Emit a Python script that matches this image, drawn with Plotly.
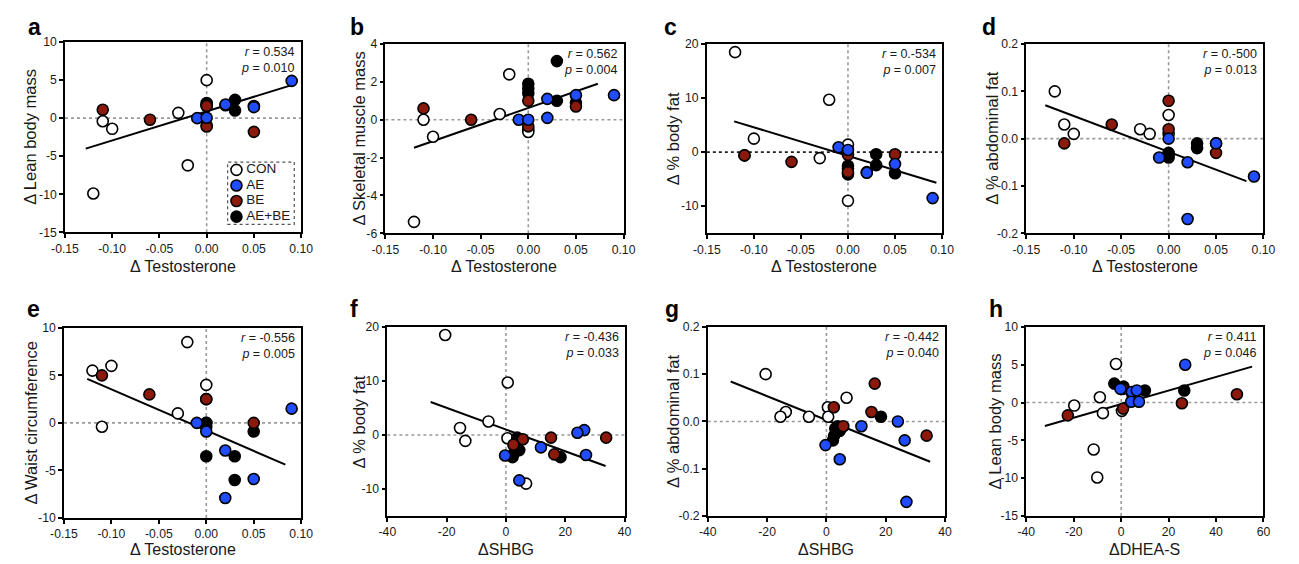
import plotly.graph_objects as go

# ---------------- data ----------------
GROUPS = ["CON", "AE", "BE", "AE+BE"]

# Δ Testosterone (x for panels a–e)
T_CON = [-0.12, -0.11, -0.10, -0.03, -0.02, 0.00, 0.00]
T_AE = [-0.01, 0.00, 0.02, 0.02, 0.05, 0.09]
T_BE = [-0.11, -0.06, 0.00, 0.00, 0.05]
T_AEBE = [0.00, 0.00, 0.00, 0.03, 0.03, 0.05]

# a: Δ Lean body mass
A_CON = [-9.9, -0.4, -1.4, 0.7, -6.2, 5.0, -0.95]
A_AE = [0.0, 0.05, 1.7, 1.8, 1.45, 4.9]
A_BE = [1.1, -0.2, 1.6, -1.1, -1.8]
A_AEBE = [2.0, 1.8, 1.6, 2.4, 1.0, 1.6]

# b: Δ Skeletal muscle mass
B_CON = [-5.4, 0.0, -0.9, 0.3, 2.4, -0.5, -0.65]
B_AE = [0.0, 0.0, 1.1, 0.1, 1.3, 1.3]
B_BE = [0.6, 0.0, 1.0, -0.35, 0.7]
B_AEBE = [1.9, 1.65, 1.4, 3.1, 1.0, 0.9]

# c: Δ % body fat
C_CON = [18.5, -0.6, 2.5, -1.1, 9.7, 1.4, -9.0]
C_AE = [0.9, 0.4, -3.7, -3.8, -2.2, -8.5]
C_BE = [-0.6, -1.8, -0.5, -3.7, -0.4]
C_AEBE = [-2.5, -3.0, -4.1, -0.4, -2.4, -3.9]

# d: Δ % abdominal fat
D_CON = [0.10, 0.03, 0.01, 0.02, 0.01, 0.01, 0.05]
D_AE = [-0.04, 0.00, -0.05, -0.17, -0.01, -0.08]
D_BE = [-0.01, 0.03, 0.02, 0.08, -0.03]
D_AEBE = [-0.03, -0.035, -0.04, -0.01, -0.02, -0.01]

# e: Δ Waist circumference
E_CON = [5.5, -0.4, 6.0, 1.0, 8.5, 4.0, -0.4]
E_AE = [0.0, -0.9, -2.9, -7.9, -5.9, 1.5]
E_BE = [5.0, 3.0, 2.5, 2.5, 0.0]
E_AEBE = [0.0, -3.5, 0.0, -3.5, -6.0, -0.9]

# ΔSHBG (x for panels f, g)
SHBG_CON = [-20.5, 0.5, -5.9, -13.7, 0.6, -15.5, 6.8]
SHBG_AE = [26.4, 24.1, -0.3, 27.0, 11.8, 4.5]
SHBG_BE = [5.7, 2.5, 15.2, 16.3, 33.8]
SHBG_AEBE = [3.8, 3.0, 4.5, 2.6, 2.2, 18.4]

# f: Δ % body fat
F_CON = [18.5, -0.6, 2.5, -1.1, 9.7, 1.3, -9.0]
F_AE = [0.9, 0.4, -3.8, -3.7, -2.3, -8.4]
F_BE = [-0.8, -1.8, -0.5, -3.6, -0.5]
F_AEBE = [-0.5, -2.3, -2.8, -3.5, -4.1, -4.1]

# g: Δ % abdominal fat
G_CON = [0.10, 0.03, 0.01, 0.02, 0.01, 0.01, 0.05]
G_AE = [-0.04, 0.00, -0.05, -0.17, -0.01, -0.08]
G_BE = [-0.01, 0.03, 0.02, 0.08, -0.03]
G_AEBE = [-0.01, -0.015, -0.02, -0.03, -0.04, 0.01]

# ΔDHEA-S (x for panel h)
DHEA_CON = [-10.1, -19.8, -7.7, -9.0, -11.6, -2.2, 0.3]
DHEA_AE = [-0.3, 4.5, 6.6, 4.2, 7.5, 27.0]
DHEA_BE = [-22.5, 0.8, 0.8, 25.6, 48.8]
DHEA_AEBE = [-2.9, 1.0, 5.0, 10.0, 26.6, 4.6]

# h: Δ Lean body mass
H_CON = [-9.9, -0.4, -1.4, 0.7, -6.2, 5.1, -1.1]
H_AE = [1.8, 1.4, 1.6, 0.1, 0.1, 5.0]
H_BE = [-1.7, 1.8, -0.8, -0.1, 1.1]
H_AEBE = [2.5, 2.1, 0.7, 1.6, 1.6, 1.2]

# regression lines (end points)
FIT_A_X, FIT_A_Y = [-0.128, 0.090], [-4.0, 4.35]
FIT_B_X, FIT_B_Y = [-0.120, 0.073], [-1.48, 1.90]
FIT_C_X, FIT_C_Y = [-0.121, 0.094], [5.7, -5.65]
FIT_D_X, FIT_D_Y = [-0.130, 0.082], [0.0705, -0.0897]
FIT_E_X, FIT_E_Y = [-0.1255, 0.0834], [4.63, -4.39]
FIT_F_X, FIT_F_Y = [-25.4, 33.6], [6.1, -5.75]
FIT_G_X, FIT_G_Y = [-32.3, 35.0], [0.0845, -0.0852]
FIT_H_X, FIT_H_Y = [-32.2, 55.2], [-3.1, 4.74]

STATS = [("0.534", "0.010"), ("0.562", "0.004"), ("0.-534", "0.007"), ("0.-500", "0.013"),
         ("-0.556", "0.005"), ("-0.436", "0.033"), ("-0.442", "0.040"), ("0.411", "0.046")]

TICKS_T = [-0.15, -0.10, -0.05, 0.00, 0.05, 0.10]
TICKS_SHBG = [-40, -20, 0, 20, 40]
TICKS_DHEA = [-40, -20, 0, 20, 40, 60]
TICKS_LBM = [-15, -10, -5, 0, 5, 10]
TICKS_SMM = [-6, -4, -2, 0, 2, 4]
TICKS_PBF = [-10, 0, 10, 20]
TICKS_PAF = [-0.2, -0.1, 0.0, 0.1, 0.2]
TICKS_WC = [-10, -5, 0, 5, 10]

# ---------------- styling / layout ----------------
W, H = 1299, 564
FONT = "Liberation Sans, Arial, Helvetica, sans-serif"
FILL = {"CON": "#ffffff", "AE": "#1f4dff", "BE": "#8b1a0c", "AE+BE": "#000000"}
DRAW_ORDER = ["CON", "AE+BE", "BE", "AE"]


def px(xp):
    return xp / W


def py(yp):
    return 1 - yp / H


def grp(c, ae, be, aebe):
    return {"CON": c, "AE": ae, "BE": be, "AE+BE": aebe}


Tx = grp(T_CON, T_AE, T_BE, T_AEBE)
Sx = grp(SHBG_CON, SHBG_AE, SHBG_BE, SHBG_AEBE)
Dx = grp(DHEA_CON, DHEA_AE, DHEA_BE, DHEA_AEBE)

panels = [
    dict(letter="a", x=Tx, y=grp(A_CON, A_AE, A_BE, A_AEBE), fx=FIT_A_X, fy=FIT_A_Y,
         xr=[-0.15, 0.10], yr=[-15, 10], xt=TICKS_T, yt=TICKS_LBM, xf="{:.2f}", yf="{:d}",
         xtitle="Δ Testosterone", ytitle="Δ Lean body mass", box=(52, 293, 36, 231)),
    dict(letter="b", x=Tx, y=grp(B_CON, B_AE, B_BE, B_AEBE), fx=FIT_B_X, fy=FIT_B_Y,
         xr=[-0.15, 0.10], yr=[-6, 4], xt=TICKS_T, yt=TICKS_SMM, xf="{:.2f}", yf="{:d}",
         xtitle="Δ Testosterone", ytitle="Δ Skeletal muscle mass", box=(379, 622, 38, 232)),
    dict(letter="c", x=Tx, y=grp(C_CON, C_AE, C_BE, C_AEBE), fx=FIT_C_X, fy=FIT_C_Y,
         xr=[-0.15, 0.10], yr=[-15, 20], xt=TICKS_T, yt=TICKS_PBF, xf="{:.2f}", yf="{:d}",
         xtitle="Δ Testosterone", ytitle="Δ % body fat", box=(707, 947, 38, 232)),
    dict(letter="d", x=Tx, y=grp(D_CON, D_AE, D_BE, D_AEBE), fx=FIT_D_X, fy=FIT_D_Y,
         xr=[-0.15, 0.10], yr=[-0.2, 0.2], xt=TICKS_T, yt=TICKS_PAF, xf="{:.2f}", yf="{:.1f}",
         xtitle="Δ Testosterone", ytitle="Δ % abdominal fat", box=(1033, 1275, 38, 232)),
    dict(letter="e", x=Tx, y=grp(E_CON, E_AE, E_BE, E_AEBE), fx=FIT_E_X, fy=FIT_E_Y,
         xr=[-0.15, 0.10], yr=[-10, 10], xt=TICKS_T, yt=TICKS_WC, xf="{:.2f}", yf="{:d}",
         xtitle="Δ Testosterone", ytitle="Δ Waist circumference", box=(51, 293, 329, 524)),
    dict(letter="f", x=Sx, y=grp(F_CON, F_AE, F_BE, F_AEBE), fx=FIT_F_X, fy=FIT_F_Y,
         xr=[-40, 40], yr=[-15, 20], xt=TICKS_SHBG, yt=TICKS_PBF, xf="{:d}", yf="{:d}",
         xtitle="ΔSHBG", ytitle="Δ % body fat", box=(381, 623, 328, 522)),
    dict(letter="g", x=Sx, y=grp(G_CON, G_AE, G_BE, G_AEBE), fx=FIT_G_X, fy=FIT_G_Y,
         xr=[-40, 40], yr=[-0.2, 0.2], xt=TICKS_SHBG, yt=TICKS_PAF, xf="{:d}", yf="{:.1f}",
         xtitle="ΔSHBG", ytitle="Δ % abdominal fat", box=(708, 950, 328, 522)),
    dict(letter="h", x=Dx, y=grp(H_CON, H_AE, H_BE, H_AEBE), fx=FIT_H_X, fy=FIT_H_Y,
         xr=[-40, 60], yr=[-15, 10], xt=TICKS_DHEA, yt=TICKS_LBM, xf="{:d}", yf="{:d}",
         xtitle="ΔDHEA-S", ytitle="Δ Lean body mass", box=(1033, 1275, 328, 522)),
]

YTITLE_X = [17, 352, 672, 998, 17, 353, 673, 1002]
LETTER_X = [12, 341, 661, 986, 11, 341, 662, 993]


def fmt(f, v):
    if f == "{:d}":
        return str(int(round(v)))
    s = f.format(v)
    return s.replace("-0.00", "0.00")


fig = go.Figure()
layout = dict(
    width=W, height=H, margin=dict(l=0, r=0, t=0, b=0),
    paper_bgcolor="white", plot_bgcolor="white",
    font=dict(family=FONT, size=12, color="#1a1a1a"),
    showlegend=False,
)
shapes, annotations = [], []

for i, p in enumerate(panels, start=1):
    sfx = "" if i == 1 else str(i)
    xa, ya = f"x{sfx}", f"y{sfx}"
    x0, x1, yt, yb = p["box"]
    common = dict(showline=True, mirror=True, linecolor="black", linewidth=1.6,
                  ticks="outside", ticklen=4, tickwidth=1.5, tickcolor="black",
                  showgrid=False, zeroline=False, tickfont=dict(size=12.2, color="#1a1a1a"))
    layout[f"xaxis{sfx}"] = dict(domain=[px(x0), px(x1)], anchor=ya, range=p["xr"],
                                 tickvals=p["xt"], ticktext=[fmt(p["xf"], v) for v in p["xt"]], **common)
    layout[f"yaxis{sfx}"] = dict(domain=[py(yb), py(yt)], anchor=xa, range=p["yr"],
                                 tickvals=p["yt"], ticktext=[fmt(p["yf"], v) for v in p["yt"]], **common)

    # dotted zero lines
    hcol = "#222222" if p["letter"] == "c" else "#9a9a9a"
    shapes.append(dict(type="line", xref=xa, yref=f"{ya} domain", x0=0, x1=0, y0=0, y1=1,
                       line=dict(color="#9a9a9a", width=1.6, dash="dot"), layer="below"))
    shapes.append(dict(type="line", xref=f"{xa} domain", yref=ya, x0=0, x1=1, y0=0, y1=0,
                       line=dict(color=hcol, width=1.6, dash="dot"), layer="below"))

    # regression line
    fig.add_trace(go.Scatter(x=p["fx"], y=p["fy"], mode="lines", xaxis=xa, yaxis=ya,
                             line=dict(color="black", width=2), hoverinfo="skip"))
    # points
    for g in DRAW_ORDER:
        fig.add_trace(go.Scatter(x=p["x"][g], y=p["y"][g], mode="markers", name=g,
                                 xaxis=xa, yaxis=ya,
                                 marker=dict(size=11, color=FILL[g],
                                             line=dict(color="black", width=1.6))))

    r, pv = STATS[i - 1]
    annotations.append(dict(xref=f"{xa} domain", yref=f"{ya} domain", x=1, y=1,
                            xanchor="right", yanchor="top", xshift=-4, yshift=-1,
                            align="right", showarrow=False,
                            text=f"<i>r</i> = {r}<br><i>p</i> = {pv}",
                            font=dict(size=12.5, color="#1a1a1a")))
    # panel letter
    ly = 21 if i <= 4 else 310
    annotations.append(dict(xref="paper", yref="paper", x=px(LETTER_X[i - 1]), y=py(ly),
                            xanchor="left", yanchor="middle", showarrow=False,
                            text=f"<b>{p['letter']}</b>", font=dict(size=23, color="black")))
    # axis titles
    ty = 266 if i <= 4 else 556.5
    annotations.append(dict(xref=f"{xa} domain", yref="paper", x=0.5, y=py(ty),
                            xanchor="center", yanchor="middle", showarrow=False,
                            text=p["xtitle"], font=dict(size=16, color="#1a1a1a")))
    annotations.append(dict(xref="paper", yref=f"{ya} domain", x=px(YTITLE_X[i - 1]), y=0.5,
                            xanchor="center", yanchor="middle", showarrow=False, textangle=-90,
                            text=p["ytitle"], font=dict(size=16.5, color="#1a1a1a")))

# ---- legend drawn as a small inset inside panel a ----
LX0, LX1, LYT, LYB = 218, 286, 159, 223
layout["xaxis9"] = dict(domain=[px(LX0), px(LX1)], anchor="y9", range=[0, LX1 - LX0], visible=False)
layout["yaxis9"] = dict(domain=[py(LYB), py(LYT)], anchor="x9", type="category",
                        categoryarray=GROUPS, range=[3.5, -0.5], visible=False)
fig.add_trace(go.Scatter(x=[9] * len(GROUPS), y=GROUPS, mode="markers", xaxis="x9", yaxis="y9",
                         marker=dict(size=11, color=[FILL[g] for g in GROUPS],
                                     line=dict(color="black", width=1.6)), hoverinfo="skip"))
fig.add_trace(go.Scatter(x=[19] * len(GROUPS), y=GROUPS, mode="text", text=GROUPS,
                         textposition="middle right", xaxis="x9", yaxis="y9",
                         textfont=dict(size=13.5, color="#1a1a1a"), hoverinfo="skip"))
shapes.append(dict(type="rect", xref="x9 domain", yref="y9 domain", x0=0, x1=1, y0=0, y1=1,
                   line=dict(color="#555555", width=1.2, dash="dot")))

layout["shapes"] = shapes
layout["annotations"] = annotations
fig.update_layout(**layout)

fig.write_html("out.html", config={"displayModeBar": False},
               post_script="document.body.style.margin='0';document.body.style.overflow='hidden';")
